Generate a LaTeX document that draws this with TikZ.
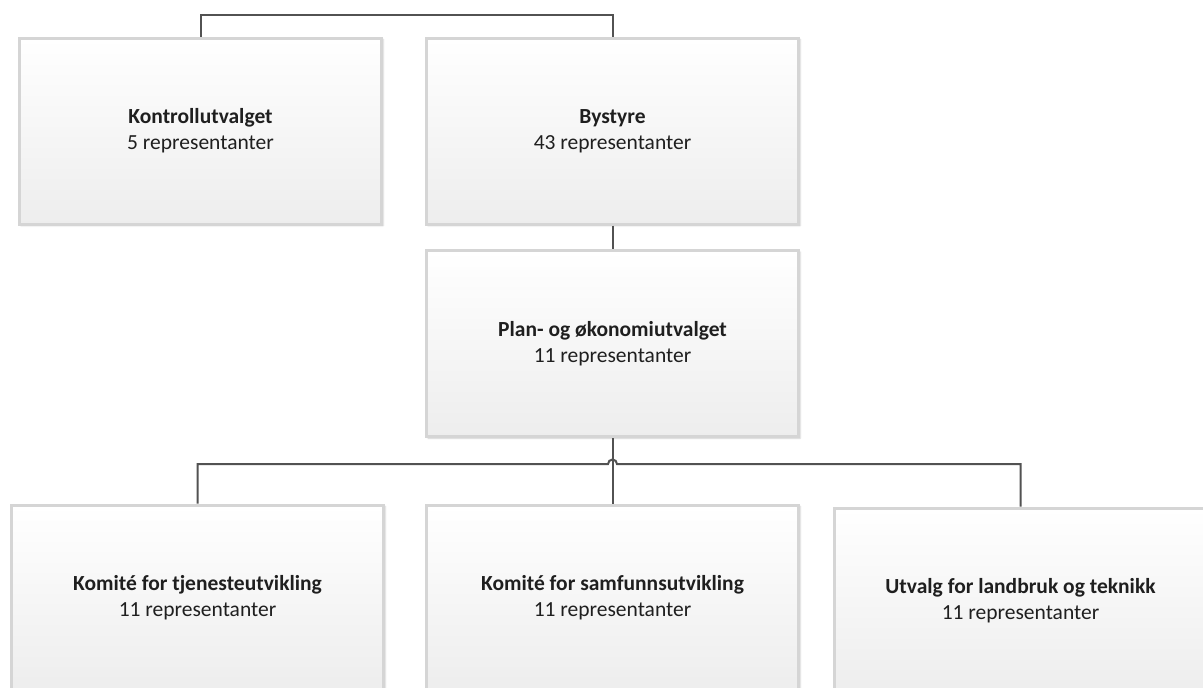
\documentclass[tikz,border=0pt]{standalone}
\usepackage{fontspec}
\setmainfont{Carlito}
\usepackage{tikz}
\usetikzlibrary{shadows.blur}

\tikzset{
    unit/.style = {draw=gray!33, line width=3pt, top color=white, bottom color=gray!14,
        blur shadow={shadow xshift=1.5pt, shadow yshift=-1.5pt, shadow opacity=20, shadow blur steps=4},
        minimum width=372pt, minimum height=186pt, inner sep=0pt, align=center,
        text=black!88, font=\fontsize{21.5}{26}\selectfont},
    link/.style = {draw=black!68, line width=2pt},
}

\begin{document}
\begin{tikzpicture}[x=1pt, y=-1pt]
    % one unit = one pixel of the page, y runs downwards
    \useasboundingbox (0,0) rectangle (1203,688);

    % top row
    \node (K) [unit, minimum width=362pt] at (200.5,131) {\textbf{Kontrollutvalget}\\5 representanter};
    \node (B) [unit] at (612.5,131) {\textbf{Bystyre}\\43 representanter};

    % middle
    \node (P) [unit] at (612.5,343.5) {\textbf{Plan- og økonomiutvalget}\\11 representanter};

    % bottom row
    \node (T) [unit] at (197.5,598) {\textbf{Komité for tjenesteutvikling}\\11 representanter};
    \node (S) [unit] at (612.5,598) {\textbf{Komité for samfunnsutvikling}\\11 representanter};
    \node (L) [unit] at (1020.5,601) {\textbf{Utvalg for landbruk og teknikk}\\11 representanter};

    \coordinate (top) at (0,15);
    \coordinate (bus) at (612.5,464);

    \draw [link] (K.north) |- (top -| B.north) -- (B.north);
    \draw [link] (B.south) -- (P.north);
    \draw [link] (T.north) |- ([xshift=-4.5pt]bus)
        arc [start angle=180, end angle=360, radius=4.5] -| (L.north);
    \draw [link] (P.south) -- (S.north);
\end{tikzpicture}
\end{document}
